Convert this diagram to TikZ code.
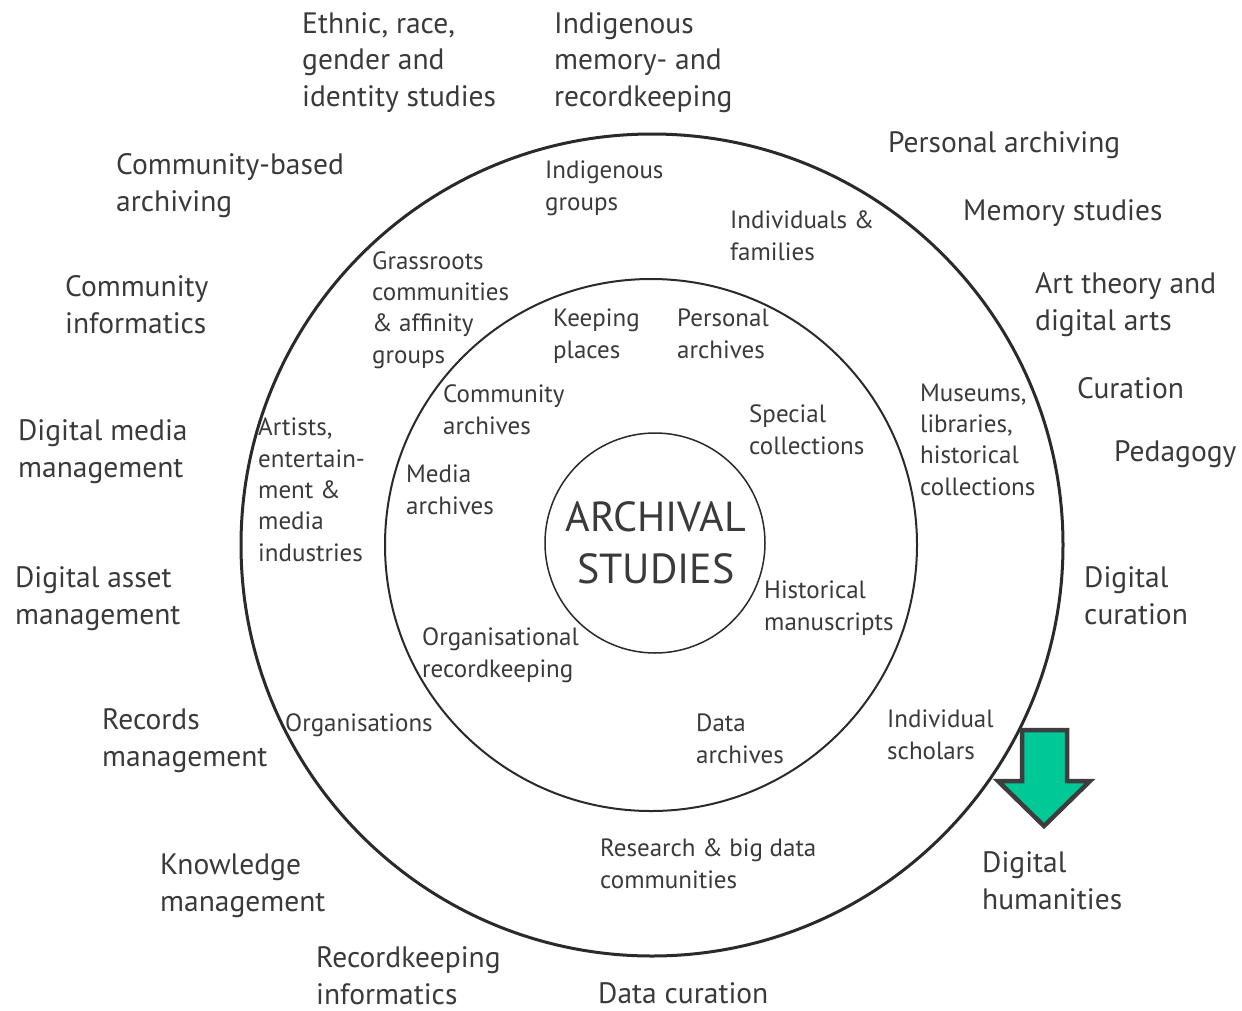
\documentclass[tikz,border=0pt]{standalone}
\usepackage{fontspec}
\setmainfont{PT Sans}
\definecolor{txt}{HTML}{3A3A3A}
\definecolor{ring}{HTML}{2A2A2A}
\definecolor{arrowfill}{HTML}{00C896}
\definecolor{arrowline}{HTML}{3D3D3D}
\tikzset{
  outerlbl/.style={anchor=base west, inner sep=0pt, align=left, text=txt, font=\fontsize{29.5}{36.5}\selectfont},
  ringlbl/.style={anchor=base west, inner sep=0pt, align=left, text=txt, font=\fontsize{25}{31.3}\selectfont},
  centerlbl/.style={anchor=base, inner sep=0pt, align=center, text=txt, font=\fontsize{42}{52}\selectfont},
  circ/.style={draw=ring}
}
\begin{document}
\begin{tikzpicture}[x=1pt,y=-1pt]
\useasboundingbox (0,0) rectangle (1242,1010);
\fill[white] (0,0) rectangle (1242,1010);
% circles
\draw[circ, line width=3pt] (652,545) circle[radius=411];
\draw[circ, line width=2pt] (651,545) circle[radius=266];
\draw[circ, line width=1.5pt] (655,543) circle[radius=110];
% centre (anchored at the baseline of the last line)
\node[centerlbl] (centre) at (656,583) {ARCHIVAL\\STUDIES};
% outer labels
\node[outerlbl] (ethnic) at (302,106) {Ethnic, race,\\gender and\\identity studies};
\node[outerlbl] (indmem) at (554,106) {Indigenous\\memory- and\\recordkeeping};
\node[outerlbl] (persarch) at (888,152) {Personal archiving};
\node[outerlbl] (memory) at (963,220) {Memory studies};
\node[outerlbl] (art) at (1035,330) {Art theory and\\digital arts};
\node[outerlbl] (curation) at (1077,398) {Curation};
\node[outerlbl] (pedagogy) at (1114,461) {Pedagogy};
\node[outerlbl] (digcur) at (1084,624) {Digital\\curation};
\node[outerlbl] (dighum) at (982,909) {Digital\\humanities};
\node[outerlbl] (datacur) at (598,1003) {Data curation};
\node[outerlbl] (rkinf) at (316,1004) {Recordkeeping\\informatics};
\node[outerlbl] (km) at (160,911) {Knowledge\\management};
\node[outerlbl] (rm) at (102,766) {Records\\management};
\node[outerlbl] (dam) at (15,624) {Digital asset\\management};
\node[outerlbl] (dmm) at (18,477) {Digital media\\management};
\node[outerlbl] (ci) at (65,333) {Community\\informatics};
\node[outerlbl] (cba) at (116,211) {Community-based\\archiving};
% ring between outer and middle circle
\node[ringlbl] (indgroups) at (545,210) {Indigenous\\groups};
\node[ringlbl] (indfam) at (730,260) {Individuals \&\\families};
\node[ringlbl] (grass) at (372,363) {Grassroots\\communities\\\& affinity\\groups};
\node[ringlbl] (museums) at (920,495) {Museums,\\libraries,\\historical\\collections};
\node[ringlbl] (artists) at (258,561) {Artists,\\entertain-\\ment \&\\media\\industries};
\node[ringlbl] (orgs) at (285,731) {Organisations};
\node[ringlbl] (indsch) at (887,759) {Individual\\scholars};
\node[ringlbl] (research) at (600,888) {Research \& big data\\communities};
% ring between middle and inner circle
\node[ringlbl] (keeping) at (553,358) {Keeping\\places};
\node[ringlbl] (persarchives) at (677,358) {Personal\\archives};
\node[ringlbl] (commarch) at (443,434) {Community\\archives};
\node[ringlbl] (special) at (749,454) {Special\\collections};
\node[ringlbl] (media) at (406,514) {Media\\archives};
\node[ringlbl] (hist) at (764,630) {Historical\\manuscripts};
\node[ringlbl] (orgrk) at (422,677) {Organisational\\recordkeeping};
\node[ringlbl] (dataarch) at (696,763) {Data\\archives};
% green arrow
\draw[draw=arrowline, fill=arrowfill, line width=4.5pt, line join=miter]
  (1022,730) -- (1067,730) -- (1067,781) -- (1090,781) -- (1044,826) -- (998,781) -- (1022,781) -- cycle;
\end{tikzpicture}
\end{document}
